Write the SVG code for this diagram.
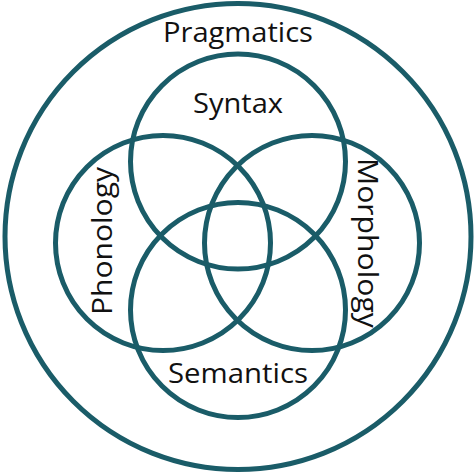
<svg xmlns="http://www.w3.org/2000/svg" width="476" height="474" viewBox="0 0 476 474">
<style>
.c{fill:none;stroke:#1a5c68;stroke-width:5}
.t{font-family:"Open Sans","Noto Sans",sans-serif;font-size:27px;fill:#111}
</style>
<rect width="476" height="474" fill="#fff"/>
<g id="pragmatics">
<circle class="c" cx="238" cy="236.5" r="233"/>
<text class="t" x="238" y="42" text-anchor="middle" textLength="150" lengthAdjust="spacingAndGlyphs">Pragmatics</text>
</g>
<g id="syntax">
<circle class="c" cx="238" cy="161.5" r="107.5"/>
<text class="t" x="238" y="112.5" text-anchor="middle" textLength="90" lengthAdjust="spacingAndGlyphs">Syntax</text>
</g>
<g id="phonology">
<circle class="c" cx="163" cy="243" r="107.5"/>
<text class="t" transform="translate(112,241) rotate(-90)" x="0" y="0" text-anchor="middle" textLength="148" lengthAdjust="spacingAndGlyphs">Phonology</text>
</g>
<g id="morphology">
<circle class="c" cx="312" cy="243" r="107.5"/>
<text class="t" transform="translate(358,243) rotate(90)" x="0" y="0" text-anchor="middle" textLength="170" lengthAdjust="spacingAndGlyphs">Morphology</text>
</g>
<g id="semantics">
<circle class="c" cx="238" cy="310" r="107.5"/>
<text class="t" x="238" y="383" text-anchor="middle" textLength="140" lengthAdjust="spacingAndGlyphs">Semantics</text>
</g>
<g id="connectors"/>
</svg>
